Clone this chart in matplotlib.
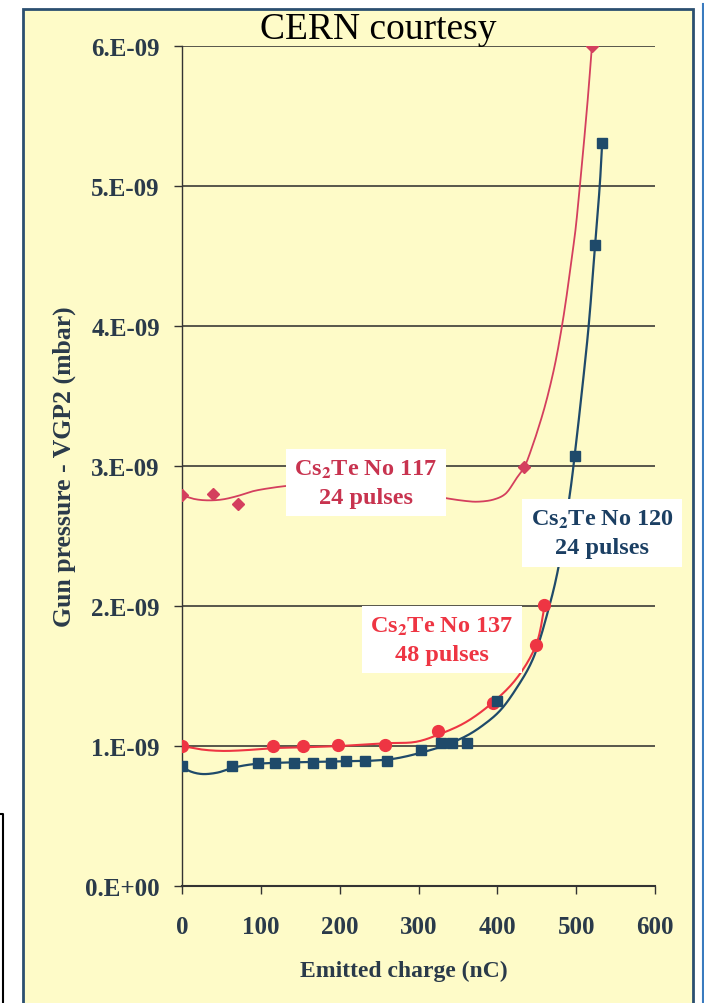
import numpy as np
import matplotlib.pyplot as plt
from matplotlib.patches import Rectangle
from matplotlib.lines import Line2D

# pressure values in units of 1e-9 mbar, charge in nC
q_117 = [0, 39, 71, 434, 520]
p_117 = [2.79, 2.80, 2.73, 2.99, 6.00]
q_137 = [0, 116, 154, 198, 258, 325, 394, 449, 459]
p_137 = [1.00, 1.00, 1.00, 1.01, 1.01, 1.11, 1.31, 1.72, 2.01]
q_120 = [0, 64, 96, 118, 142, 166, 189, 208, 232, 260, 303, 329, 343, 361, 400, 498, 524, 533]
p_120 = [0.855, 0.855, 0.88, 0.88, 0.88, 0.88, 0.88, 0.89, 0.89, 0.895, 0.97, 1.02, 1.02, 1.02,
         1.32, 3.07, 4.58, 5.31]

# trend curves
tq_117 = [0, 15, 30, 50, 70, 90, 115, 137, 180, 220, 260, 300, 330, 360, 375, 395, 410,
          424, 434, 445, 452, 459, 466, 474, 482, 488, 494, 499, 504, 510, 515, 520]
tp_117 = [2.79, 2.765, 2.755, 2.76, 2.785, 2.82, 2.845, 2.86, 2.875, 2.87, 2.85, 2.81, 2.775,
          2.75, 2.745, 2.76, 2.80, 2.91, 2.99, 3.15, 3.27, 3.40, 3.55, 3.75, 4.00, 4.22, 4.47,
          4.68, 4.96, 5.32, 5.64, 6.00]
tq_137 = [0, 25, 50, 80, 116, 150, 200, 260, 297, 327, 360, 394, 424, 449, 461]
tp_137 = [1.00, 0.975, 0.965, 0.97, 0.985, 0.99, 1.00, 1.02, 1.03, 1.085, 1.17, 1.31, 1.48,
          1.72, 2.03]
tq_120 = [0, 10, 25, 45, 65, 90, 120, 160, 200, 240, 270, 305, 331, 360, 381, 403, 424, 445,
          466, 478, 493, 498, 508, 516, 524, 530, 533]
tp_120 = [0.855, 0.82, 0.80, 0.81, 0.845, 0.87, 0.88, 0.885, 0.89, 0.895, 0.91, 0.955, 1.00,
          1.07, 1.145, 1.25, 1.41, 1.62, 2.00, 2.29, 2.84, 3.07, 3.57, 4.01, 4.58, 5.01, 5.31]

xticks = [0, 100, 200, 300, 400, 500, 600]
yticks = [0, 1, 2, 3, 4, 5, 6]
ytick_labels = ["0.E+00", "1.E-09", "2.E-09", "3.E-09", "4.E-09", "5.E-09", "6.E-09"]

c117 = '#d43f5e'
c137 = '#ee3543'
c120 = '#1f4a6a'
yellow = '#fefbc8'
frame = '#2b4f70'


def smooth(xs, ys, n=12):
    # centripetal catmull-rom through the traced points (scaled to screen proportions)
    sx, sy = 473 / 600, 140
    P = np.column_stack([np.asarray(xs, float) * sx, np.asarray(ys, float) * sy])
    P = np.vstack([2 * P[0] - P[1], P, 2 * P[-1] - P[-2]])
    out = []
    for i in range(1, len(P) - 2):
        p0, p1, p2, p3 = P[i - 1], P[i], P[i + 1], P[i + 2]
        t0 = 0.0
        t1 = t0 + np.linalg.norm(p1 - p0) ** 0.5
        t2 = t1 + np.linalg.norm(p2 - p1) ** 0.5
        t3 = t2 + np.linalg.norm(p3 - p2) ** 0.5
        t = np.linspace(t1, t2, n)[:, None]
        a1 = (t1 - t) / (t1 - t0) * p0 + (t - t0) / (t1 - t0) * p1
        a2 = (t2 - t) / (t2 - t1) * p1 + (t - t1) / (t2 - t1) * p2
        a3 = (t3 - t) / (t3 - t2) * p2 + (t - t2) / (t3 - t2) * p3
        b1 = (t2 - t) / (t2 - t0) * a1 + (t - t0) / (t2 - t0) * a2
        b2 = (t3 - t) / (t3 - t1) * a2 + (t - t1) / (t3 - t1) * a3
        c = (t2 - t) / (t2 - t1) * b1 + (t - t1) / (t2 - t1) * b2
        out.append(c if i == 1 else c[1:])
    out = np.vstack(out)
    return out[:, 0] / sx, out[:, 1] / sy


plt.rcParams['font.family'] = ['Liberation Serif', 'DejaVu Serif']
plt.rcParams['mathtext.fontset'] = 'stix'

fig = plt.figure(figsize=(7.04, 10.04), dpi=100)
fig.patch.set_facecolor('white')

bg = Rectangle((23/704, -0.02), 670/704, 1.02 - 10/1004, transform=fig.transFigure,
               facecolor=yellow, edgecolor=frame, linewidth=2, zorder=-10)
fig.add_artist(bg)
fig.add_artist(Line2D([702.5/704, 702.5/704], [0, 1 - 5/1004], transform=fig.transFigure,
                      color='#3a7bbf', linewidth=1.5, zorder=-10))
fig.add_artist(Line2D([0, 3/704, 3/704], [1 - 815/1004, 1 - 815/1004, 0], transform=fig.transFigure,
                      color='black', linewidth=1.5, zorder=-10))

ax = fig.add_axes([182/704, 1 - 887/1004, 473/704, 840/1004])
ax.patch.set_visible(False)
ax.set_xlim(0, 600)
ax.set_ylim(0, 6)
for s in ['top', 'right']:
    ax.spines[s].set_visible(False)
ax.spines['left'].set_color('#333333')
ax.spines['bottom'].set_color('#333333')
ax.spines['left'].set_linewidth(1)
ax.spines['bottom'].set_linewidth(1.5)

for v in yticks[1:]:
    ax.axhline(v, color='#2a2a2a', linewidth=1.1, zorder=1)

ax.set_xticks(xticks)
ax.set_xticklabels([str(v) for v in xticks], fontsize=18, fontweight='bold', color='#2a3a4a')
ax.set_yticks(yticks)
ax.set_yticklabels(ytick_labels, fontsize=18, fontweight='bold', color='#2a3a4a')
ax.tick_params(axis='x', direction='out', length=6, width=1, pad=15, color='#333333')
ax.tick_params(axis='y', direction='out', length=6, width=1, pad=10, color='#333333')

ax.set_xlabel("Emitted charge (nC)", fontsize=17, fontweight='bold', color='#2a3a4a')
ax.xaxis.set_label_coords(0.47, -0.088)
ax.set_ylabel("Gun pressure - VGP2 (mbar)", fontsize=18.5, fontweight='bold', color='#2a3a4a')
ax.yaxis.set_label_coords(-0.225, 0.5)

ax.plot(*smooth(tq_117, tp_117), color=c117, linewidth=1.3, zorder=3)
ax.plot(q_117, p_117, linestyle='none', marker='D', markersize=6, color=c117, zorder=4)
ax.plot(*smooth(tq_137, tp_137), color=c137, linewidth=1.5, zorder=3)
ax.plot(q_137, p_137, linestyle='none', marker='o', markersize=8.5, color=c137, zorder=4)
ax.plot(*smooth(tq_120, tp_120), color=c120, linewidth=1.6, zorder=3)
ax.plot(q_120, p_120, linestyle='none', marker='s', markersize=7.5, color=c120, zorder=4)

box = dict(facecolor='white', edgecolor='none', pad=6)
ax.text(233, 2.88, "Cs$_\\mathbf{2}$Te No 117\n24 pulses", color='#c8334f', fontsize=17.5,
        fontweight='bold', ha='center', va='center', linespacing=1.45, bbox=box, zorder=6)
ax.text(330, 1.76, "Cs$_\\mathbf{2}$Te No 137\n48 pulses", color=c137, fontsize=17.5,
        fontweight='bold', ha='center', va='center', linespacing=1.45, bbox=box, zorder=6)
ax.text(533, 2.52, "Cs$_\\mathbf{2}$Te No 120\n24 pulses", color='#1b3f63', fontsize=17.5,
        fontweight='bold', ha='center', va='center', linespacing=1.45, bbox=box, zorder=6,
        clip_on=False)

fig.text(378/704, 1 - 30/1004, "CERN courtesy", fontsize=27, ha='center', va='center', color='black')

plt.savefig("out.png", dpi=100)
